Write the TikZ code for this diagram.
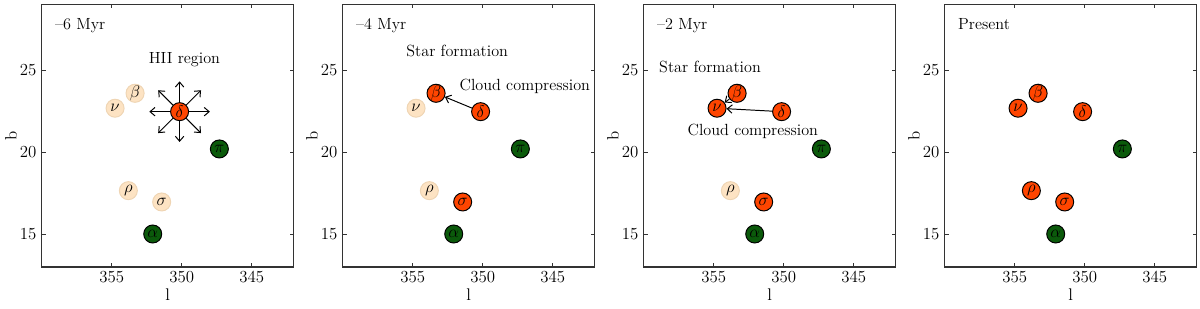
\documentclass[tikz,border=0pt]{standalone}
\usetikzlibrary{arrows.meta}
\definecolor{youngred}{HTML}{FF4500}
\definecolor{fadedfill}{HTML}{FDE3C3}
\definecolor{fadeddraw}{HTML}{EFD5B4}
\definecolor{fieldgreen}{HTML}{0B5A0B}
\definecolor{framegray}{HTML}{333333}

\begin{document}
\begin{tikzpicture}[
  every node/.style={font=\fontsize{11.5}{13}\selectfont},
  young/.style={circle, draw=black, fill=youngred, line width=0.7pt, minimum size=0.45cm, inner sep=0pt, font=\fontsize{12}{13}\selectfont},
  faded/.style={circle, draw=fadeddraw, fill=fadedfill, line width=0.7pt, minimum size=0.45cm, inner sep=0pt, font=\fontsize{12}{13}\selectfont},
  field/.style={circle, draw=black, fill=fieldgreen, line width=0.7pt, minimum size=0.45cm, inner sep=0pt, font=\fontsize{12}{13}\selectfont},
  ticklabel/.style={inner sep=0pt, font=\fontsize{12}{13}\selectfont},
  push/.style={-{Straight Barb[length=3.5pt,width=6pt]}, line width=0.7pt}
]
  \useasboundingbox (0,0) rectangle (30,7.7);

  % -- Panels (one per epoch) --
  \foreach \k/\sd/\sb/\sn/\sr/\ss/\era in {%
      0/young/faded/faded/faded/faded/{--6~Myr},
      1/young/young/faded/faded/young/{--4~Myr},
      2/young/young/young/faded/young/{--2~Myr},
      3/young/young/young/young/young/Present}{
    \begin{scope}[shift={(1.0425+7.525*\k,1.025)}, x=0.35cm, y=0.4105cm]
      % frame and ticks
      \draw[framegray, line width=0.8pt] (0,0) rectangle (18,16);
      \foreach \l/\dl in {355/5,350/10,345/15}{
        \draw[framegray, line width=0.6pt] (\dl,0) -- ++(0,0.1cm) (\dl,16) -- ++(0,-0.1cm);
        \node[ticklabel] (xl\k\l) at (\dl,-0.63) {\l};
      }
      \foreach \b/\db in {15/2,20/7,25/12}{
        \draw[framegray, line width=0.6pt] (0,\db) -- ++(0.1cm,0) (18,\db) -- ++(-0.1cm,0);
        \node[ticklabel, anchor=east] (yl\k\b) at (-0.36,\db) {\b};
      }
      \node[font=\fontsize{12}{13}\selectfont] (xt\k) at (9,-1.705) {l};
      \node[rotate=90, font=\fontsize{12}{13}\selectfont] (yt\k) at (-2.19,8) {b};
      \node[anchor=base west, inner sep=0pt] (t\k) at (0.94,14.48) {\era};

      % stars
      \node[\sd] (d\k) at (9.85,9.46) {$\delta$};
      \node[\sb] (b\k) at (6.67,10.58) {$\beta$};
      \node[\sn] (n\k) at (5.24,9.67) {$\nu$};
      \node[field] (p\k) at (12.69,7.19) {$\pi$};
      \node[\sr] (r\k) at (6.19,4.65) {$\rho$};
      \node[\ss] (s\k) at (8.57,3.96) {$\sigma$};
      \node[field] (a\k) at (7.93,2.01) {$\alpha$};
    \end{scope}
  }

  % -- HII region (-6 Myr) --
  \node[anchor=base] (hii) at (4.61,6.12) {HII region};
  \foreach \a in {0,45,...,315}
    \draw[push] (d0.\a) -- ++(\a:0.52cm);

  % -- Star formation (-4 Myr) --
  \node[anchor=base] (sf1) at (11.43,6.28) {Star formation};
  \node[anchor=base] (cc1) at (13.12,5.45) {Cloud compression};
  \draw[push] (d1) -- (b1);

  % -- Star formation (-2 Myr) --
  \node[anchor=base] (sf2) at (17.75,5.89) {Star formation};
  \node[anchor=base] (cc2) at (18.82,4.31) {Cloud compression};
  \draw[push] (d2) -- (n2);
  \draw[push] (b2) -- (n2);

\end{tikzpicture}
\end{document}
